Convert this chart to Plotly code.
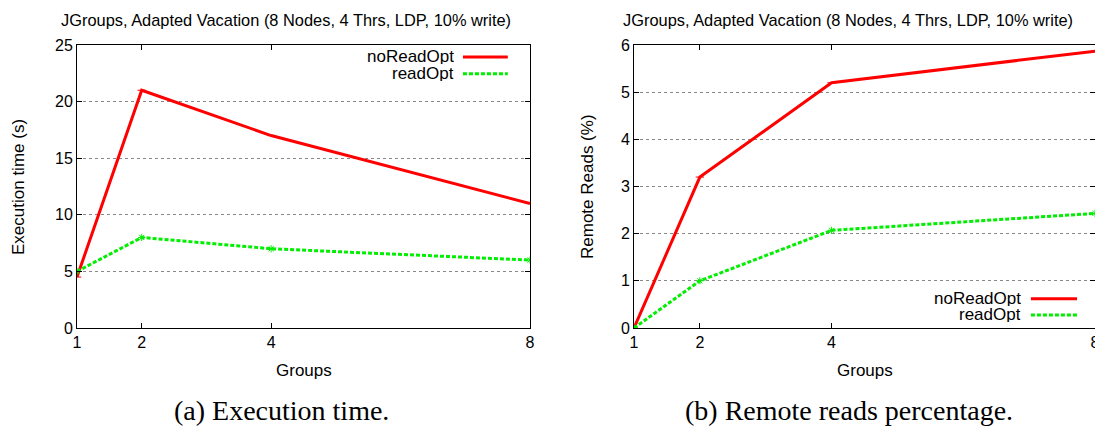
import plotly.graph_objects as go

groups = [1, 2, 4, 8]
exec_noreadopt = [4.5, 21.0, 17.0, 11.0]
exec_readopt = [5.0, 8.0, 7.0, 6.0]
remote_noreadopt = [0.0, 3.2, 5.2, 5.87]
remote_readopt = [0.0, 1.0, 2.07, 2.43]

title_text = "JGroups, Adapted Vacation (8 Nodes, 4 Thrs, LDP, 10% write)"
series_names = ["noReadOpt", "readOpt"]
RED = "#ff0000"
GREEN = "#00ee00"
SANS = "Liberation Sans, Arial, sans-serif"
SERIF = "Liberation Serif, DejaVu Serif, serif"
OFF = 8  # page body margin
W, H = 1103 - OFF, 427 - OFF

def px(x):
    return (x - OFF) / W

def py(y):
    return 1 - (y - OFF) / H

fig = go.Figure()

def add_pair(noopt, opt, xa, ya):
    fig.add_trace(go.Scatter(x=groups, y=noopt, mode="lines+markers", name=series_names[0],
                             line=dict(color=RED, width=3),
                             marker=dict(symbol="line-ew", size=6, line=dict(color=RED, width=1)),
                             xaxis=xa, yaxis=ya, showlegend=False))
    fig.add_trace(go.Scatter(x=groups, y=opt, mode="lines+markers", name=series_names[1],
                             line=dict(color=GREEN, width=3, dash="4px,2px"),
                             marker=dict(symbol="asterisk", size=6, line=dict(color=GREEN, width=1)),
                             xaxis=xa, yaxis=ya, showlegend=False))

add_pair(exec_noreadopt, exec_readopt, "x", "y")
add_pair(remote_noreadopt, remote_readopt, "x2", "y2")

ydom = [py(328), py(45)]
axis_common = dict(showline=True, linecolor="black", linewidth=1, mirror="ticks",
                   ticks="inside", ticklen=5, tickcolor="black", zeroline=False,
                   ticklabeloverflow="allow",
                   tickfont=dict(family=SANS, size=16, color="black"))
fig.update_layout(
    width=W, height=H, margin=dict(l=0, r=0, t=0, b=0, autoexpand=False),
    plot_bgcolor="white", paper_bgcolor="white", showlegend=False,
    xaxis=dict(domain=[px(77), px(530)], range=[1, 8], tickvals=groups,
               showgrid=False, anchor="y", **axis_common),
    yaxis=dict(domain=ydom, range=[0, 25], dtick=5, showgrid=True, gridcolor="#888",
               griddash="dot", gridwidth=1, anchor="x", **axis_common),
    xaxis2=dict(domain=[px(634), px(1095)], range=[1, 8], tickvals=groups,
                showgrid=False, anchor="y2", **axis_common),
    yaxis2=dict(domain=ydom, range=[0, 6], dtick=1, showgrid=True, gridcolor="#888",
                griddash="dot", gridwidth=1, anchor="x2", **axis_common),
)

ann = []
def txt(text, x, y, size=17, family=SANS, angle=0):
    ann.append(dict(text=text, x=px(x), y=py(y), xref="paper", yref="paper",
                    xanchor="center", yanchor="middle", textangle=angle, showarrow=False,
                    font=dict(family=family, size=size, color="black")))

txt(title_text, 286, 20, size=16.4)
txt(title_text, 848, 20, size=16.4)
txt("Groups", 303.5, 370)
txt("Groups", 864.5, 370)
txt("Execution time (s)", 18, 187, angle=-90)
txt("Remote Reads (%)", 587, 187, angle=-90)
txt("(a) Execution time.", 281, 410, size=28, family=SERIF)
txt("(b) Remote reads percentage.", 849, 410, size=28, family=SERIF)

shapes = []
def legend(xa, ya, xtext, x0, x1, y_top, y_bot):
    for name, yy, col, dash in [(series_names[0], y_top, RED, "solid"),
                                (series_names[1], y_bot, GREEN, "4px,2px")]:
        ann.append(dict(text=name, x=xtext, y=yy, xref=xa + " domain", yref=ya + " domain",
                        xanchor="right", yanchor="middle", showarrow=False, height=15,
                        borderpad=0,
                        font=dict(family=SANS, size=17, color="black")))
        shapes.append(dict(type="line", xref=xa + " domain", yref=ya + " domain", x0=x0, x1=x1,
                           y0=yy, y1=yy, line=dict(color=col, width=3, dash=dash)))

legend("x", "y", 0.835, 0.852, 0.951, 0.958, 0.898)
legend("x2", "y2", 0.842, 0.861, 0.961, 0.103, 0.046)

fig.update_layout(annotations=ann, shapes=shapes)
fig.write_html("out.html", config={"responsive": False})
